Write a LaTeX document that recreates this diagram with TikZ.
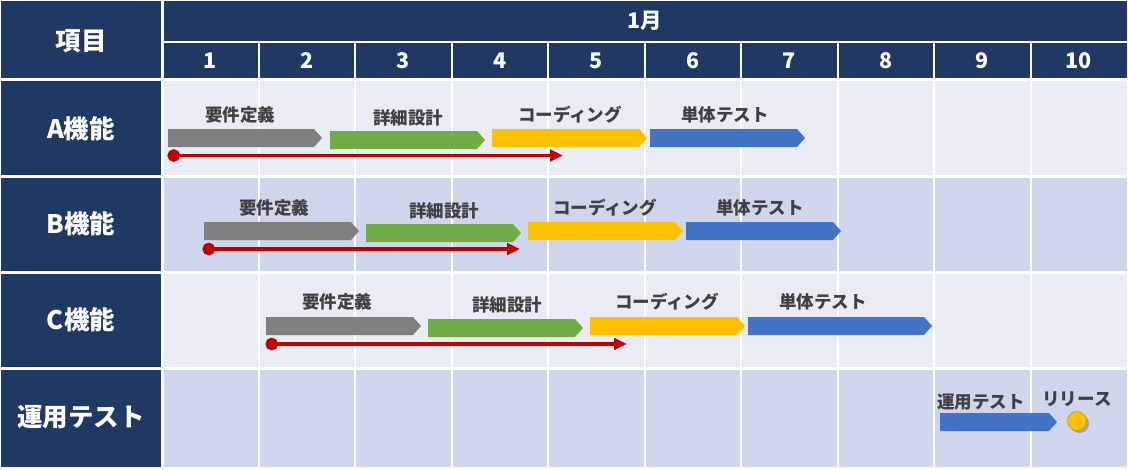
\documentclass[tikz,border=0pt]{standalone}
\usepackage{fontspec}
\setmainfont{Noto Sans CJK JP}
\usetikzlibrary{arrows.meta,shadows}
\definecolor{navy}{HTML}{1F3864}
\definecolor{rowlight}{HTML}{E9EBF5}
\definecolor{rowdark}{HTML}{CFD5EA}
\definecolor{cgray}{HTML}{7F7F7F}
\definecolor{cgreen}{HTML}{70AD47}
\definecolor{cyellow}{HTML}{FFC000}
\definecolor{cblue}{HTML}{4472C4}
\definecolor{cred}{HTML}{C00000}
\definecolor{labelc}{HTML}{404040}
\newcommand\gbar[4]{% x1, x2, ytop, color
  \fill[#4] (#1,#3) -- ({#2-8},#3) -- (#2,{#3+9}) -- ({#2-8},{#3+18}) -- (#1,{#3+18}) -- cycle;}
\begin{document}
\begin{tikzpicture}[x=1pt,y=-1pt,
  rowhead/.style={text=white,font=\bfseries\fontsize{25.5}{28}\selectfont},
  colhead/.style={text=white,font=\bfseries\fontsize{21.5}{24}\selectfont},
  tasklabel/.style={text=labelc,font=\bfseries\fontsize{17.5}{20}\selectfont},
  redline/.style={cred,line width=3.8pt,{Circle[length=12.5pt]}-{Triangle[length=13pt,width=11.5pt]}},
  gridw/.style={white,line width=2pt}]
\useasboundingbox (0,0) rectangle (1128,469);
\fill[white] (0,0) rectangle (1128,469);
% backgrounds
\fill[navy] (1,1) rectangle (162,467);
\fill[navy] (162,1) rectangle (1127,79.5);
\fill[rowlight] (162,79.5) rectangle (1127,176.5);
\fill[rowdark] (162,176.5) rectangle (1127,272.5);
\fill[rowlight] (162,272.5) rectangle (1127,368.5);
\fill[rowdark] (162,368.5) rectangle (1127,467);
% grid
\foreach \i in {1,...,9} {\draw[gridw] ({162+96.5*\i},42) -- ({162+96.5*\i},467);}
\draw[gridw] (162,42) -- (1127,42);
\draw[white,line width=3pt] (162,0) -- (162,467);
\foreach \yy in {79.5,176.5,272.5,368.5} {\draw[white,line width=3pt] (0,\yy) -- (1128,\yy);}
% header texts
\node[rowhead] (hk) at (81,41) {項目};
\node[colhead] (hm) at (645,21) {1月};
\foreach \i in {1,...,10} {\node[colhead] (n\i) at ({162+96.5*\i-48.25},61) {\i};}
\node[rowhead] (ra) at (81,129) {A機能};
\node[rowhead] (rb) at (81,224) {B機能};
\node[rowhead] (rc) at (81,320) {C機能};
\node[rowhead] (rd) at (81,417) {運用テスト};
% Row A
\gbar{168}{322}{129}{cgray}
\gbar{330}{485}{131}{cgreen}
\gbar{492}{647}{129}{cyellow}
\gbar{650}{805}{129}{cblue}
\node[tasklabel] (la1) at (240,115) {要件定義};
\node[tasklabel] (la2) at (408,118) {詳細設計};
\node[tasklabel] (la3) at (570,115) {コーディング};
\node[tasklabel] (la4) at (725,115) {単体テスト};
\coordinate (as) at (167.5,155.5);
\coordinate (ae) at (563,155.5);
\draw[redline] (as) -- (ae);
% Row B
\gbar{204}{359}{222}{cgray}
\gbar{366}{521}{224}{cgreen}
\gbar{528}{683}{222}{cyellow}
\gbar{686}{841}{222}{cblue}
\node[tasklabel] (lb1) at (274,208) {要件定義};
\node[tasklabel] (lb2) at (444,211) {詳細設計};
\node[tasklabel] (lb3) at (605,208) {コーディング};
\node[tasklabel] (lb4) at (760,208) {単体テスト};
\coordinate (bs) at (202.5,249);
\coordinate (be) at (520,249);
\draw[redline] (bs) -- (be);
% Row C
\gbar{266}{421}{317}{cgray}
\gbar{428}{583}{319}{cgreen}
\gbar{590}{745}{317}{cyellow}
\gbar{748}{932}{317}{cblue}
\node[tasklabel] (lc1) at (337,302) {要件定義};
\node[tasklabel] (lc2) at (507,305) {詳細設計};
\node[tasklabel] (lc3) at (667,302) {コーディング};
\node[tasklabel] (lc4) at (823,302) {単体テスト};
\coordinate (cs) at (265.5,344);
\coordinate (ce) at (627,344);
\draw[redline] (cs) -- (ce);
% Row D
\gbar{940}{1057}{413}{cblue}
\node[tasklabel] (ld1) at (981,402) {運用テスト};
\node[tasklabel] (ld2) at (1077,399) {リリース};
\node[circle,minimum size=19pt,inner sep=0pt,fill=cyellow,draw=cyellow!80!black,line width=0.6pt,
  drop shadow={opacity=0.45,shadow xshift=2.5pt,shadow yshift=-2.5pt,fill=black!60}] (rel) at (1077,421) {};
\end{tikzpicture}
\end{document}
